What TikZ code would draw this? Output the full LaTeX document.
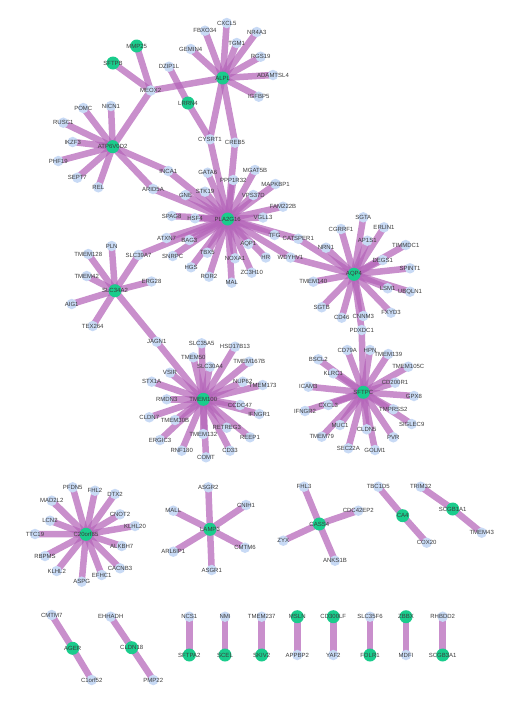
\documentclass[tikz,border=0pt]{standalone}
\usepackage{fontspec}
\setmainfont{Liberation Sans}
\pgfdeclarelayer{bg}
\pgfsetlayers{bg,main}
\definecolor{edgecol}{RGB}{180,100,185}
\definecolor{genecol}{RGB}{200,218,245}
\definecolor{hubcol}{RGB}{26,204,140}
\definecolor{lblcol}{RGB}{60,60,60}
\tikzset{
  lbl/.style={font=\fontsize{6}{6.5}\selectfont, text=lblcol, inner sep=0pt},
  gene/.style={circle, fill=genecol, minimum size=10.5pt, inner sep=0pt, label={[lbl]center:#1}},
  hub/.style={circle, fill=hubcol, minimum size=13pt, inner sep=0pt, label={[lbl]center:#1}},
  edge/.style={draw=edgecol, draw opacity=0.72, line width=6.5pt}
}
\begin{document}
\begin{tikzpicture}[x=1pt,y=-1pt]
\useasboundingbox (0,0) rectangle (512,705);
% ALPL / MEOX2
\node[hub=MMP25] (MMP25) at (136.7,46) {};
\node[hub=SFTPB] (SFTPB) at (113,63) {};
\node[gene=MEOX2] (MEOX2) at (150.7,90.5) {};
\node[gene=DZIP1L] (DZIP1L) at (169,66.7) {};
\node[hub=LRRN4] (LRRN4) at (188,103) {};
\node[gene=GEMIN4] (GEMIN4) at (190.7,49) {};
\node[gene=FBXO34] (FBXO34) at (205,30.7) {};
\node[gene=CXCL5] (CXCL5) at (226.7,23) {};
\node[gene=TGM1] (TGM1) at (236.7,43) {};
\node[gene=NR4A3] (NR4A3) at (256.7,32) {};
\node[gene=RGS19] (RGS19) at (260.7,56.7) {};
\node[hub=ALPL] (ALPL) at (222.7,78) {};
\node[gene=ADAMTSL4] (ADAMTSL4) at (273,75) {};
\node[gene=IGFBP5] (IGFBP5) at (258.7,96.7) {};
% ATP6V0D2
\node[gene=NICN1] (NICN1) at (111,106) {};
\node[gene=POMC] (POMC) at (83.3,108) {};
\node[gene=RUSC1] (RUSC1) at (63.3,122.7) {};
\node[hub=ATP6V0D2] (ATP6V0D2) at (112.7,146.7) {};
\node[gene=IKZF3] (IKZF3) at (72.7,142) {};
\node[gene=PHF19] (PHF19) at (58.3,161) {};
\node[gene=SEPT7] (SEPT7) at (77.3,177.7) {};
\node[gene=REL] (REL) at (98.3,187.3) {};
% PLA2G16
\node[gene=INCA1] (INCA1) at (168.3,171) {};
\node[gene=ARID5A] (ARID5A) at (153,189) {};
\node[gene=GNE] (GNE) at (185.5,195) {};
\node[gene=CYSRT1] (CYSRT1) at (210,139.3) {};
\node[gene=CREB5] (CREB5) at (235,142.7) {};
\node[gene=GATA6] (GATA6) at (207.7,172.7) {};
\node[gene=PPP1R32] (PPP1R32) at (233.3,180) {};
\node[gene=MGAT5B] (MGAT5B) at (255,170) {};
\node[gene=MAPKBP1] (MAPKBP1) at (275.5,184) {};
\node[gene=STK19] (STK19) at (205,191.7) {};
\node[gene=VPS37D] (VPS37D) at (253.3,195) {};
\node[gene=FAM222B] (FAM222B) at (283,206.7) {};
\node[gene=SPAG8] (SPAG8) at (171.7,216) {};
\node[gene=HSF4] (HSF4) at (195,218.3) {};
\node[hub=PLA2G16] (PLA2G16) at (227.7,219) {};
\node[gene=VGLL3] (VGLL3) at (263,217.5) {};
\node[gene=ATXN7] (ATXN7) at (166.5,238) {};
\node[gene=BAG3] (BAG3) at (189.3,240) {};
\node[gene=TFG] (TFG) at (274.5,235) {};
\node[gene=CATSPER1] (CATSPER1) at (298.3,238.8) {};
\node[gene=AQP1] (AQP1) at (248.3,244) {};
\node[gene=SNRPC] (SNRPC) at (172.7,256) {};
\node[gene=TBX5] (TBX5) at (207.3,252.7) {};
\node[gene=NOXA1] (NOXA1) at (235,258.3) {};
\node[gene=HR] (HR) at (265.8,257.5) {};
\node[gene=WDYHV1] (WDYHV1) at (290.5,257.5) {};
\node[gene=HGS] (HGS) at (191,267.3) {};
\node[gene=ZC3H10] (ZC3H10) at (251.7,272.7) {};
\node[gene=ROR2] (ROR2) at (209,276.7) {};
\node[gene=MAL] (MAL) at (231.7,282.7) {};
% AQP4
\node[hub=AQP4] (AQP4) at (354,274.3) {};
\node[gene=SGTA] (SGTA) at (363.3,217.3) {};
\node[gene=CGRRF1] (CGRRF1) at (341,229) {};
\node[gene=ERLIN1] (ERLIN1) at (384,227.3) {};
\node[gene=AP1S1] (AP1S1) at (367.3,240.7) {};
\node[gene=NRN1] (NRN1) at (326,247.7) {};
\node[gene=TIMMDC1] (TIMMDC1) at (405.7,245) {};
\node[gene=DEGS1] (DEGS1) at (382.7,260) {};
\node[gene=SPINT1] (SPINT1) at (410,268.3) {};
\node[gene=TMEM140] (TMEM140) at (313.3,281.7) {};
\node[gene=LSM1] (LSM1) at (387.7,288.3) {};
\node[gene=UBQLN1] (UBQLN1) at (410,291.7) {};
\node[gene=SGTB] (SGTB) at (321.7,307.3) {};
\node[gene=FXYD3] (FXYD3) at (391,312.7) {};
\node[gene=CNNM3] (CNNM3) at (363.3,316) {};
\node[gene=CD46] (CD46) at (341.7,317.7) {};
\node[gene=PDXDC1] (PDXDC1) at (361.7,330) {};
% SLC34A2
\node[hub=SLC34A2] (SLC34A2) at (115,290.7) {};
\node[gene=PLN] (PLN) at (111.7,246) {};
\node[gene=TMEM128] (TMEM128) at (88.3,254) {};
\node[gene=SLC39A7] (SLC39A7) at (138.5,255) {};
\node[gene=TMEM42] (TMEM42) at (86.7,276) {};
\node[gene=ERG28] (ERG28) at (151.5,281.5) {};
\node[gene=AIG1] (AIG1) at (71.7,304) {};
\node[gene=TEX264] (TEX264) at (92.7,326) {};
% TMEM100
\node[hub=TMEM100] (TMEM100) at (203.3,399.3) {};
\node[gene=JAGN1] (JAGN1) at (156.7,341.7) {};
\node[gene=SLC35A5] (SLC35A5) at (201.7,343.3) {};
\node[gene=HSD17B13] (HSD17B13) at (235,346.7) {};
\node[gene=TMEM50] (TMEM50) at (193.3,357.3) {};
\node[gene=SLC30A4] (SLC30A4) at (210,366.7) {};
\node[gene=TMEM167B] (TMEM167B) at (249.3,361.7) {};
\node[gene=VSIR] (VSIR) at (170,372.7) {};
\node[gene=NUP62] (NUP62) at (242.7,381.7) {};
\node[gene=TMEM173] (TMEM173) at (262.7,385) {};
\node[gene=STX1A] (STX1A) at (151.7,381.7) {};
\node[gene=RMDN3] (RMDN3) at (166.7,399.3) {};
\node[gene=CCDC47] (CCDC47) at (240,405) {};
\node[gene=IFNGR1] (IFNGR1) at (259.3,414) {};
\node[gene=CLDN7] (CLDN7) at (149.3,417.3) {};
\node[gene=TMEM30B] (TMEM30B) at (175,420) {};
\node[gene=RETREG3] (RETREG3) at (226.7,427.7) {};
\node[gene=REEP1] (REEP1) at (250,437.3) {};
\node[gene=TMEM132] (TMEM132) at (203.3,434) {};
\node[gene=ERGIC3] (ERGIC3) at (160,440) {};
\node[gene=RNF180] (RNF180) at (181.7,450.7) {};
\node[gene=CD33] (CD33) at (230,450.7) {};
\node[gene=COMT] (COMT) at (206,457.3) {};
% SFTPC
\node[hub=SFTPC] (SFTPC) at (363.3,392.3) {};
\node[gene=CD79A] (CD79A) at (347.3,350) {};
\node[gene=HPN] (HPN) at (370,350) {};
\node[gene=TMEM139] (TMEM139) at (388.3,354) {};
\node[gene=BSCL2] (BSCL2) at (318.3,359.3) {};
\node[gene=TMEM105C] (TMEM105C) at (408.3,366.7) {};
\node[gene=KLRC1] (KLRC1) at (333.3,373.3) {};
\node[gene=CD200R1] (CD200R1) at (395,382.7) {};
\node[gene=ICAM3] (ICAM3) at (308.3,386.7) {};
\node[gene=GPX8] (GPX8) at (414,396) {};
\node[gene=IFNGR2] (IFNGR2) at (305,411) {};
\node[gene=CXCL3] (CXCL3) at (328.3,405) {};
\node[gene=TMPRSS2] (TMPRSS2) at (393.3,409.3) {};
\node[gene=SIGLEC9] (SIGLEC9) at (411.7,424) {};
\node[gene=MUC1] (MUC1) at (340,425) {};
\node[gene=CLDN5] (CLDN5) at (366.7,429.3) {};
\node[gene=TMEM79] (TMEM79) at (321.7,436.7) {};
\node[gene=PVR] (PVR) at (393.3,437.3) {};
\node[gene=SEC22A] (SEC22A) at (348.3,448.3) {};
\node[gene=GOLM1] (GOLM1) at (375,450) {};
% C20orf85
\node[hub=C20orf85] (C20orf85) at (86,534.3) {};
\node[gene=PFDN5] (PFDN5) at (72.7,487.3) {};
\node[gene=FHL2] (FHL2) at (95,490.7) {};
\node[gene=DTX2] (DTX2) at (115,494) {};
\node[gene=MAD2L2] (MAD2L2) at (51.7,500.7) {};
\node[gene=CNOT2] (CNOT2) at (120,514.3) {};
\node[gene=LCN2] (LCN2) at (50,520.7) {};
\node[gene=KLHL20] (KLHL20) at (135,526) {};
\node[gene=TTC19] (TTC19) at (35,534) {};
\node[gene=ALKBH7] (ALKBH7) at (121.7,546) {};
\node[gene=RBPMS] (RBPMS) at (45,556) {};
\node[gene=CACNB3] (CACNB3) at (120,568.3) {};
\node[gene=KLHL2] (KLHL2) at (56.7,571) {};
\node[gene=EFHC1] (EFHC1) at (101.7,575) {};
\node[gene=ASPG] (ASPG) at (81.7,581.7) {};
% LAMP3
\node[hub=LAMP3] (LAMP3) at (210,529.3) {};
\node[gene=ASGR2] (ASGR2) at (208.3,487.3) {};
\node[gene=MALL] (MALL) at (173.3,510.7) {};
\node[gene=CNIH1] (CNIH1) at (246,505) {};
\node[gene=CMTM6] (CMTM6) at (245,547.7) {};
\node[gene=ARL6IP1] (ARL6IP1) at (173.3,551.7) {};
\node[gene=ASGR1] (ASGR1) at (211.7,570) {};
% CASS4, CA4, SCGB1A1
\node[hub=CASS4] (CASS4) at (319.3,524) {};
\node[gene=FHL3] (FHL3) at (304,486.7) {};
\node[gene=ZYX] (ZYX) at (283.3,540.7) {};
\node[gene=ANKS1B] (ANKS1B) at (335,560.7) {};
\node[gene=CDC42EP2] (CDC42EP2) at (358.3,510.7) {};
\node[hub=CA4] (CA4) at (402.7,515.7) {};
\node[gene=TBC1D5] (TBC1D5) at (378.3,486.7) {};
\node[gene=COX20] (COX20) at (426.7,542.7) {};
\node[hub=SCGB1A1] (SCGB1A1) at (452.7,509) {};
\node[gene=TRIM32] (TRIM32) at (420.7,486.7) {};
\node[gene=TMEM43] (TMEM43) at (481.7,532.7) {};
% Paires
\node[hub=AGER] (AGER) at (72.7,648.3) {};
\node[gene=CMTM7] (CMTM7) at (51.7,615) {};
\node[gene=C1orf52] (C1orf52) at (91.7,680) {};
\node[hub=CLDN18] (CLDN18) at (131.7,647.7) {};
\node[gene=EHHADH] (EHHADH) at (110.7,616.7) {};
\node[gene=PMP22] (PMP22) at (153.3,680) {};
\node[gene=NCS1] (NCS1) at (189.3,616.7) {};
\node[hub=SFTPA2] (SFTPA2) at (189.3,655) {};
\node[gene=NMI] (NMI) at (225,616.7) {};
\node[hub=SCEL] (SCEL) at (225,655) {};
\node[gene=TMEM237] (TMEM237) at (261.7,616.7) {};
\node[hub=SKIV2] (SKIV2) at (261.7,655) {};
\node[hub=MSLN] (MSLN) at (297.3,616.7) {};
\node[gene=APPBP2] (APPBP2) at (297.3,655) {};
\node[hub=CD300LF] (CD300LF) at (333.3,616.7) {};
\node[gene=YAF2] (YAF2) at (333.3,655) {};
\node[gene=SLC35F6] (SLC35F6) at (370,616.7) {};
\node[hub=FOLR1] (FOLR1) at (370,655) {};
\node[hub=ZBBX] (ZBBX) at (406,616.7) {};
\node[gene=MDFI] (MDFI) at (406,655) {};
\node[gene=RHBDD2] (RHBDD2) at (442.7,616.7) {};
\node[hub=SCGB3A1] (SCGB3A1) at (442.7,655) {};
% Aristas
\begin{pgfonlayer}{bg}
\foreach \n in {MMP25,SFTPB,ALPL,ATP6V0D2}
  \draw[edge] (MEOX2.center) -- (\n.center);
\foreach \n in {GEMIN4,FBXO34,CXCL5,TGM1,NR4A3,RGS19,ADAMTSL4,IGFBP5,CYSRT1,CREB5}
  \draw[edge] (ALPL.center) -- (\n.center);
\draw[edge] (DZIP1L.center) -- (LRRN4.center);
\draw[edge] (LRRN4.center) -- (CYSRT1.center);
\foreach \n in {NICN1,POMC,RUSC1,IKZF3,PHF19,SEPT7,REL,INCA1,ARID5A}
  \draw[edge] (ATP6V0D2.center) -- (\n.center);
\foreach \n in {INCA1,ARID5A,GNE,CYSRT1,CREB5,GATA6,PPP1R32,MGAT5B,MAPKBP1,STK19,VPS37D,FAM222B,SPAG8,HSF4,VGLL3,ATXN7,BAG3,TFG,CATSPER1,AQP1,SNRPC,TBX5,NOXA1,HR,WDYHV1,HGS,ZC3H10,ROR2,MAL,SLC39A7}
  \draw[edge] (PLA2G16.center) -- (\n.center);
\foreach \n in {SGTA,CGRRF1,ERLIN1,AP1S1,NRN1,TIMMDC1,DEGS1,SPINT1,TMEM140,LSM1,UBQLN1,SGTB,FXYD3,CNNM3,CD46,PDXDC1,CATSPER1,WDYHV1}
  \draw[edge] (AQP4.center) -- (\n.center);
\foreach \n in {PLN,TMEM128,SLC39A7,TMEM42,ERG28,AIG1,TEX264,JAGN1}
  \draw[edge] (SLC34A2.center) -- (\n.center);
\foreach \n in {JAGN1,SLC35A5,HSD17B13,TMEM50,SLC30A4,TMEM167B,VSIR,NUP62,TMEM173,STX1A,RMDN3,CCDC47,IFNGR1,CLDN7,TMEM30B,RETREG3,REEP1,TMEM132,ERGIC3,RNF180,CD33,COMT}
  \draw[edge] (TMEM100.center) -- (\n.center);
\foreach \n in {PDXDC1,CD79A,HPN,TMEM139,BSCL2,TMEM105C,KLRC1,CD200R1,ICAM3,GPX8,IFNGR2,CXCL3,TMPRSS2,SIGLEC9,MUC1,CLDN5,TMEM79,PVR,SEC22A,GOLM1}
  \draw[edge] (SFTPC.center) -- (\n.center);
\foreach \n in {PFDN5,FHL2,DTX2,MAD2L2,CNOT2,LCN2,KLHL20,TTC19,ALKBH7,RBPMS,CACNB3,KLHL2,EFHC1,ASPG}
  \draw[edge] (C20orf85.center) -- (\n.center);
\foreach \n in {ASGR2,MALL,CNIH1,CMTM6,ARL6IP1,ASGR1}
  \draw[edge] (LAMP3.center) -- (\n.center);
\foreach \n in {FHL3,ZYX,ANKS1B,CDC42EP2}
  \draw[edge] (CASS4.center) -- (\n.center);
\draw[edge] (TBC1D5.center) -- (CA4.center) -- (COX20.center);
\draw[edge] (TRIM32.center) -- (SCGB1A1.center) -- (TMEM43.center);
\draw[edge] (CMTM7.center) -- (AGER.center) -- (C1orf52.center);
\draw[edge] (EHHADH.center) -- (CLDN18.center) -- (PMP22.center);
\draw[edge] (NCS1.center) -- (SFTPA2.center);
\draw[edge] (NMI.center) -- (SCEL.center);
\draw[edge] (TMEM237.center) -- (SKIV2.center);
\draw[edge] (MSLN.center) -- (APPBP2.center);
\draw[edge] (CD300LF.center) -- (YAF2.center);
\draw[edge] (SLC35F6.center) -- (FOLR1.center);
\draw[edge] (ZBBX.center) -- (MDFI.center);
\draw[edge] (RHBDD2.center) -- (SCGB3A1.center);
\end{pgfonlayer}
\end{tikzpicture}
\end{document}
